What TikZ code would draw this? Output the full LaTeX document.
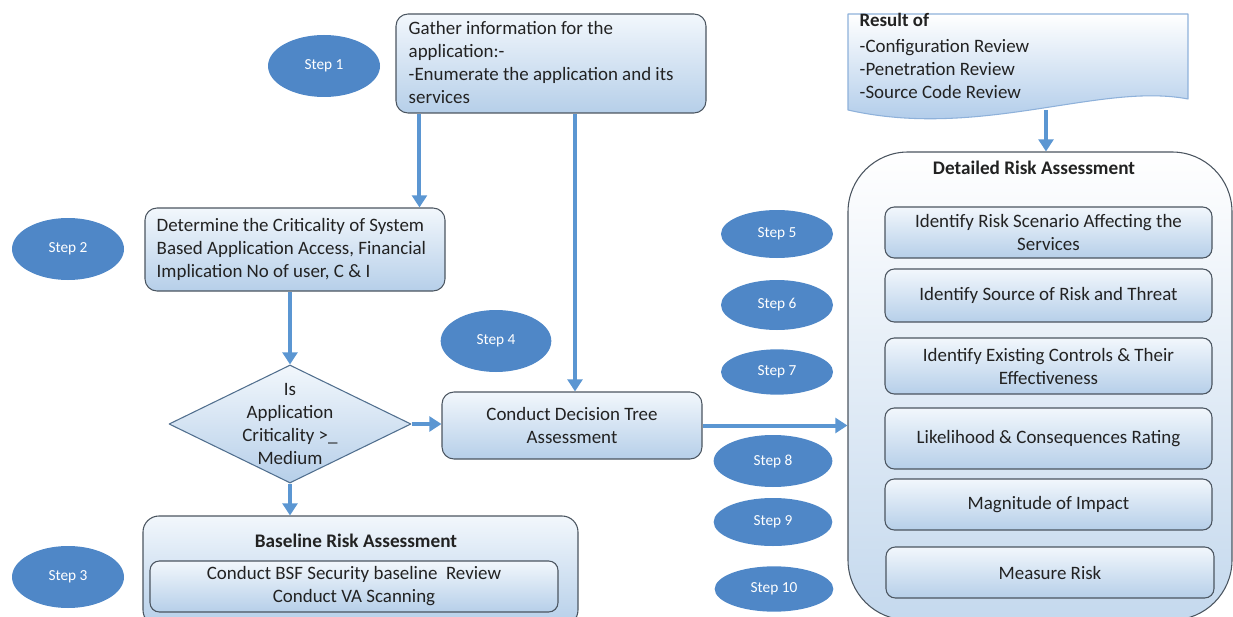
\documentclass[tikz,border=0pt]{standalone}
\usepackage{fontspec}
\setmainfont{Carlito}
\usepackage{tikz}
\usetikzlibrary{arrows.meta,calc,shapes.geometric}
\definecolor{stepblue}{HTML}{4F87C7}
\definecolor{flowblue}{HTML}{5B96D2}
\definecolor{boxtop}{HTML}{F2F7FC}
\definecolor{boxbot}{HTML}{B6CFE9}
\definecolor{boxline}{HTML}{4B5560}
\definecolor{docline}{HTML}{8EB1DA}
\definecolor{docbot}{HTML}{A3C3E6}
\definecolor{txtgray}{HTML}{222222}
\def\mainsz{\fontsize{14.2}{17.25}\selectfont}
\tikzset{
  every node/.style={font=\mainsz,text=txtgray},
  stepoval/.style={ellipse,fill=stepblue,inner sep=0pt,text=white,
    font=\fontsize{11.5}{13}\selectfont},
  procbox/.style={draw=boxline,line width=0.8pt,rounded corners=9pt,
    top color=boxtop,bottom color=boxbot,inner sep=0pt},
  subbox/.style={procbox,rounded corners=7pt,align=center},
  decision/.style={diamond,draw=boxline!60!flowblue,line width=0.8pt,
    top color=boxtop,bottom color=boxbot,inner sep=0pt},
  flow/.style={draw=flowblue,line width=3pt,-{Triangle[length=9pt,width=11pt]}},
  title/.style={font=\fontsize{14.4}{16}\selectfont\bfseries}
}

\begin{document}
\begin{tikzpicture}[x=0.75pt,y=-0.75pt,line join=round]
  % Window & clip
  \useasboundingbox (0,0) rectangle (1233,617);
  \clip (0,0) rectangle (1233,617);

  % Left column
  \node[procbox,minimum width=232.5pt,minimum height=74.25pt] (gather) at (551,63.5) {};
  \node[align=left,anchor=north west] (gathertxt) at (404,17)
       {Gather information for the\\application:-\\-Enumerate the application and its\\services};
  \node[procbox,minimum width=225pt,minimum height=62.25pt] (detm) at (295,249.5) {};
  \node[align=left,anchor=north west] (detmtxt) at (152,214)
       {Determine the Criticality of System\\Based Application Access, Financial\\Implication No of user, C \& I};
  \node[decision,minimum width=181.5pt,minimum height=88.5pt] (crit) at (290,424) {};
  \node[align=center] (crittxt) at (290,424) {Is\\Application\\Criticality >\_\\Medium};
  \node[procbox,minimum width=195pt,minimum height=50.25pt,align=center] (dtree) at (572,425.5)
       {Conduct Decision Tree\\Assessment};

  % Baseline block
  \node[procbox,rounded corners=12pt,minimum width=326.25pt,minimum height=82.5pt] (base) at (360.5,571) {};
  \node[title] (basettl) at (356,541) {Baseline Risk Assessment};
  \node[subbox,minimum width=306pt,minimum height=38.25pt] (basein) at (354,586.5)
       {Conduct BSF Security baseline\ \ Review\\Conduct VA Scanning};

  % Result document
  \draw[docline,line width=0.8pt,top color=white,bottom color=docbot]
    (848,14) -- (1188,14) -- (1188,99) .. controls (1100,82) and (980,140) .. (848,110) -- cycle;
  \node[align=left,anchor=north west] (result) at (855,9)
       {\textbf{Result of}\\[2pt]-Configuration Review\\-Penetration Review\\-Source Code Review};
  \coordinate (docbot) at (1046,110);

  % Detailed block
  \node[draw=boxline,line width=0.8pt,rounded corners=45pt,top color=white,bottom color=boxbot!80,
        minimum width=288pt,minimum height=351pt,inner sep=0pt] (detail) at (1040,386) {};
  \node[title] (detailttl) at (1034,168) {Detailed Risk Assessment};
  \node[subbox,minimum width=245.25pt,minimum height=38.25pt] (r1) at (1048.5,232.5)
       {Identify Risk Scenario Affecting the\\Services};
  \node[subbox,minimum width=245.25pt,minimum height=39.75pt] (r2) at (1048.5,295.5)
       {Identify Source of Risk and Threat};
  \node[subbox,minimum width=245.25pt,minimum height=42pt] (r3) at (1048.5,366)
       {Identify Existing Controls \& Their\\Effectiveness};
  \node[subbox,minimum width=245.25pt,minimum height=45.75pt] (r4) at (1048.5,438.5)
       {Likelihood \& Consequences Rating};
  \node[subbox,minimum width=245.25pt,minimum height=38.25pt] (r5) at (1048.5,504.5)
       {Magnitude of Impact};
  \node[subbox,minimum width=246pt,minimum height=38.25pt] (r6) at (1050,572.5)
       {Measure Risk};

  % Step ovals
  \node[stepoval,minimum width=84pt,minimum height=46.5pt] (s1) at (324,66) {Step 1};
  \node[stepoval,minimum width=84pt,minimum height=46.5pt] (s2) at (68,249) {Step 2};
  \node[stepoval,minimum width=84pt,minimum height=46.5pt] (s3) at (68,577) {Step 3};
  \node[stepoval,minimum width=83pt,minimum height=46.5pt] (s4) at (496,341) {Step 4};
  \foreach \n/\x/\y/\w/\h in {5/777/234/84/36, 6/777/305/84/37.5, 7/777/372/84/34,
                              8/773/461/89/39, 9/773/522/89/36, 10/774/589/89/34}
    \node[stepoval,minimum width=\w pt,minimum height=\h pt] (s\n) at (\x,\y) {Step \n};

  % Connectors
  \draw[flow] ([xshift=18pt]gather.south west) -- ([xshift=18pt]gather.south west |- detm.north);
  \draw[flow] ([xshift=18pt]gather.south) -- ([xshift=18pt]gather.south |- dtree.north);
  \draw[flow] (detm.south -| crit.north) -- (crit.north);
  \draw[flow] (crit.east) -- (crit.east -| dtree.west);
  \draw[flow] (crit.south) -- (crit.south |- base.north);
  \draw[flow] (dtree.east) -- (dtree.east -| detail.west);
  \draw[flow] (docbot) -- (docbot |- detail.north);

\end{tikzpicture}
\end{document}
